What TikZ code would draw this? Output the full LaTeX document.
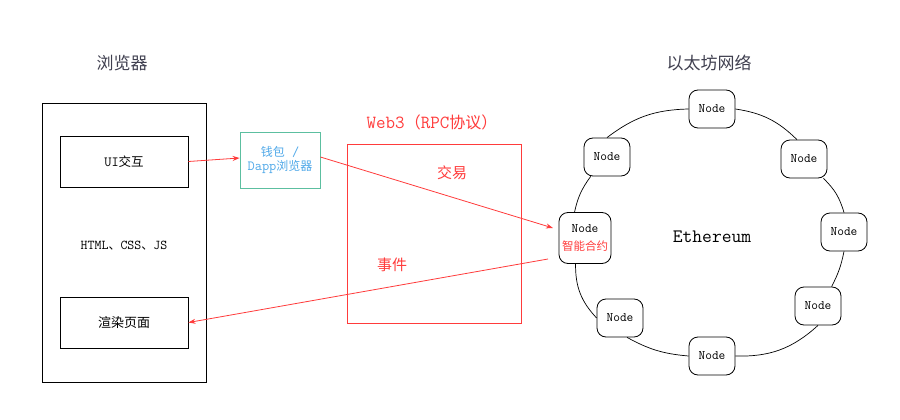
\documentclass[tikz,border=0pt]{standalone}
\usepackage{fontspec}
\newfontfamily\cjk{Noto Sans CJK SC}
\usetikzlibrary{arrows.meta}
\definecolor{myred}{HTML}{FF3B3B}
\definecolor{tealb}{HTML}{5CBFA0}
\definecolor{lblue}{HTML}{4FA8E8}
\definecolor{titlegray}{HTML}{404050}
\newcommand\mt[2]{{\ttfamily\fontsize{#1}{#1}\selectfont #2}}
\newcommand\ct[2]{{\cjk\fontsize{#1}{#1}\selectfont #2}}
\begin{document}
\begin{tikzpicture}[x=1pt,y=1pt,
  box/.style={draw=black, line width=0.9pt, inner sep=0pt, align=center},
  ringnode/.style={draw=black, rounded corners=9pt, minimum width=46pt, minimum height=38pt, inner sep=0pt, fill=white, line width=0.8pt, font=\ttfamily\fontsize{13}{14}\selectfont},
  conn/.style={draw=black, line width=0.7pt},
  arr/.style={draw=myred, line width=0.8pt, -{Stealth[length=7pt,width=5pt]}},
  titletext/.style={text=titlegray, font=\cjk\fontsize{17}{18}\selectfont},
  redtext/.style={text=myred, font=\cjk\fontsize{15}{16}\selectfont},
]
\useasboundingbox (0,0) rectangle (900,-420);

% titles
\node[titletext] (t1) at (122,-63) {浏览器};
\node[titletext] (t2) at (709,-63) {以太坊网络};

% browser
\node[box, minimum width=164pt, minimum height=279pt] (browser) at (124,-242.5) {};
\node[box, minimum width=128pt, minimum height=51pt] (ui) at (124,-161.5) {\mt{14}{UI}\ct{12.5}{交互}};
\node[box, minimum width=128pt, minimum height=51pt, font=\cjk\fontsize{13}{14}\selectfont] (render) at (124,-322.5) {渲染页面};
\node (html) at (124,-246) {\mt{13.5}{HTML}\ct{12}{、}\mt{13.5}{CSS}\ct{12}{、}\mt{13.5}{JS}};

% wallet
\node[draw=tealb, line width=0.8pt, minimum width=80pt, minimum height=56pt, inner sep=0pt, align=center, text=lblue] (wallet) at (280,-160) {\ct{12}{钱包}\mt{14}{ /}\\[2pt]\mt{14}{Dapp}\ct{12}{浏览器}};

% web3
\node[draw=myred, line width=0.8pt, minimum width=174pt, minimum height=179pt, inner sep=0pt] (web3) at (434,-233.5) {};
\node[text=myred] (web3t) at (432,-122) {\mt{18.5}{Web3}\ct{16}{（}\mt{18.5}{RPC}\ct{16}{协议）}};
\node[redtext] (tx) at (452,-173) {交易};
\node[redtext] (ev) at (392,-265) {事件};

% ring
\node[ringnode] (top) at (712,-109) {Node};
\node[ringnode] (ul) at (607,-157) {Node};
\node[ringnode] (ru) at (804,-159) {Node};
\node[ringnode] (r) at (844,-232) {Node};
\node[ringnode] (rl) at (818,-306) {Node};
\node[ringnode] (bot) at (712,-356) {Node};
\node[ringnode] (ll) at (620,-318) {Node};
\node[ringnode, minimum width=52pt, minimum height=51pt, align=center] (sc) at (585,-238) {Node\\[4pt]{\color{myred}\ct{11.5}{智能合约}}};
\node[font=\ttfamily\fontsize{19}{20}\selectfont] (eth) at (712,-237) {Ethereum};

\draw[conn] (top.east) to[bend left=18] (ru.110);
\draw[conn] (ru.-45) to[bend left=15] (r.north);
\draw[conn] (r.south) to[bend left=8] (rl.55);
\draw[conn] (rl.south) to[bend left=22] (bot.east);
\draw[conn] (bot.west) to[bend left=12] (ll.-70);
\draw[conn] (ll.west) to[bend left=22] (sc.-110);
\draw[conn] (sc.112) to[bend left=12] (ul.-130);
\draw[conn] (ul.north) to[bend left=18] (top.west);

% arrows
\coordinate (scin) at (553,-228);
\coordinate (scout) at (548,-259);
\draw[arr] (ui.east) -- ([yshift=2pt]wallet.west);
\draw[arr] ([yshift=3pt]wallet.east) -- (scin);
\draw[arr] (scout) -- (render.east);
\end{tikzpicture}
\end{document}
